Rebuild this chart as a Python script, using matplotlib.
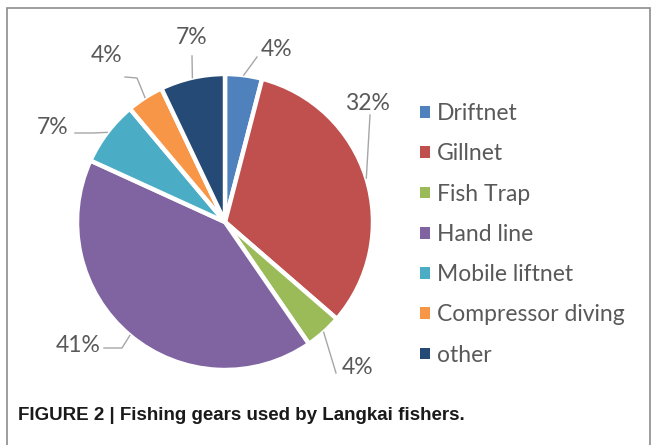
#!/usr/bin/env python3
"""Figure 2 - fishing gears used by Langkai fishers (pie chart)"""

import matplotlib.pyplot as plt
import matplotlib.patches as patches
import numpy as np

plt.rcParams.update({
    'font.family': ['Lato', 'DejaVu Sans'],
    'font.size': 11,
})

# ==============================================================================
# Data
# ==============================================================================
gears = ['Driftnet', 'Gillnet', 'Fish Trap', 'Hand line',
         'Mobile liftnet', 'Compressor diving', 'other']
shares = [4, 32, 4, 41, 7, 4, 7]
colors = ['#4F81BD', '#C0504D', '#9BBB59', '#8064A2',
          '#4BACC6', '#F79646', '#254A75']

# ==============================================================================
# Layout (pixel coords, y down)
# ==============================================================================
W, H = 652, 445
center_px = (225, 222)
radius_px = 148

# label text centres and leader line points after the wedge edge
label_px = [(277, 50), (367, 103), (358, 368), (78, 345),
            (53, 128), (107, 56), (192, 38)]
leader_px = [
    [(257, 57)],
    [(370, 115)],
    [(336, 373)],
    [(122, 348), (104, 348)],
    [(93, 133), (75, 133)],
    [(137, 78), (125, 77)],
    [(192, 56)],
]
text_grey = '#595959'
line_grey = '#A6A6A6'


def fy(y):
    return H - y


fig = plt.figure(figsize=(W / 100, H / 100), dpi=100)
ax = fig.add_axes([0, 0, 1, 1])

wedges, _ = ax.pie(shares, colors=colors, startangle=90, counterclock=False,
                   center=(center_px[0], fy(center_px[1])), radius=radius_px,
                   frame=True,
                   wedgeprops=dict(edgecolor='white', linewidth=3.2))
ax.set_xlim(0, W)
ax.set_ylim(0, H)
ax.axis('off')

# percentage labels with leader lines
for w, v, (lx, ly), pts in zip(wedges, shares, label_px, leader_px):
    mid = np.deg2rad((w.theta1 + w.theta2) / 2)
    ex = w.center[0] + w.r * np.cos(mid)
    ey = w.center[1] + w.r * np.sin(mid)
    xs = [ex] + [p[0] for p in pts]
    ys = [ey] + [fy(p[1]) for p in pts]
    ax.plot(xs, ys, color=line_grey, linewidth=1.0)
    ax.text(lx, fy(ly), f'{v}%', ha='center', va='center',
            fontsize=16.5, color=text_grey)

# legend
handles = [patches.Patch(facecolor=c, edgecolor='none') for c in colors]
leg = fig.legend(handles, gears, loc='upper left',
                 bbox_to_anchor=(411 / W, 1 - 94 / H),
                 frameon=False, fontsize=16.5, handlelength=0.42,
                 handleheight=0.42, handletextpad=0.3, labelspacing=0.84,
                 borderaxespad=0)
for t in leg.get_texts():
    t.set_color(text_grey)

# frame around the chart
ax.plot([7, 7, 650, 650], [0, fy(8), fy(8), 0], color='#8C8C8C',
        linewidth=1.2, solid_joinstyle='miter')

# caption
ax.text(18, fy(416), 'FIGURE 2 | Fishing gears used by Langkai fishers.',
        ha='left', va='center', fontsize=13.5, fontweight='bold',
        family='Liberation Sans', color='#1A1A1A')

plt.savefig('out.png', dpi=100, facecolor='white')
plt.close()
